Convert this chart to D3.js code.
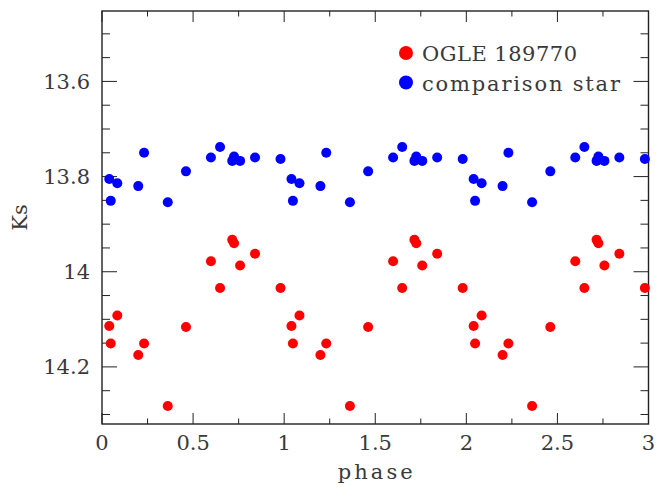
<!DOCTYPE html>
<html>
<head>
<meta charset="utf-8">
<script src="https://cdn.jsdelivr.net/npm/d3@7"></script>
<style>
  body { margin: 0; background: #fff; }
  svg { display: block; }
  text { font-family: "DejaVu Serif", serif; fill: #3a3a3a; }
</style>
</head>
<body>
<div id="chart"></div>
<script>
// Data: phase-folded light curve, one cycle (plotted repeated over 3 cycles)
const phases = [0.040, 0.048, 0.084, 0.199, 0.231, 0.361, 0.461, 0.598, 0.648, 0.715, 0.725, 0.758, 0.840, 0.980];
const ogleKs = [14.114, 14.151, 14.092, 14.175, 14.151, 14.282, 14.116, 13.978, 14.034, 13.933, 13.940, 13.987, 13.962, 14.034];
const compKs = [13.805, 13.851, 13.814, 13.820, 13.750, 13.854, 13.789, 13.760, 13.738, 13.767, 13.758, 13.767, 13.760, 13.763];
const cycles = [0, 1, 2];
const seriesNames = ["OGLE 189770", "comparison star"];
const seriesColors = ["#ff0000", "#0000ff"];
const xTicks = [0, 0.5, 1, 1.5, 2, 2.5, 3];
const yTicks = [13.6, 13.8, 14, 14.2];

const width = 656, height = 487;
const plot = { left: 102, right: 648.5, top: 11, bottom: 424 };

const svg = d3.select("#chart").append("svg")
    .attr("width", width)
    .attr("height", height);

const x = d3.scaleLinear().domain([0, 3]).range([plot.left, plot.right]);
const y = d3.scaleLinear().domain([13.452, 14.32]).range([plot.top, plot.bottom]);

// build folded points
function folded(values) {
    const pts = [];
    cycles.forEach(c => {
        phases.forEach((p, i) => {
            const ph = p + c;
            if (ph <= 3) pts.push({ phase: ph, ks: values[i] });
        });
    });
    return pts;
}

// ticks (inward, on all four sides)
const xMinor = d3.range(0, 3.001, 0.25);
const yMinor = d3.range(13.45, 14.321, 0.05).filter(v => v >= 13.452);
const tickG = svg.append("g").attr("stroke", "#222").attr("stroke-width", 1);

xMinor.forEach(v => {
    const major = Math.abs(v * 2 - Math.round(v * 2)) < 1e-6;
    const len = major ? 11 : 5.5;
    tickG.append("line").attr("x1", x(v)).attr("x2", x(v)).attr("y1", plot.bottom).attr("y2", plot.bottom - len);
    tickG.append("line").attr("x1", x(v)).attr("x2", x(v)).attr("y1", plot.top).attr("y2", plot.top + len);
});
yMinor.forEach(v => {
    const major = yTicks.some(t => Math.abs(t - v) < 1e-6);
    const len = major ? 15 : 8;
    tickG.append("line").attr("x1", plot.left).attr("x2", plot.left + len).attr("y1", y(v)).attr("y2", y(v));
    tickG.append("line").attr("x1", plot.right).attr("x2", plot.right - len).attr("y1", y(v)).attr("y2", y(v));
});

// frame
svg.append("rect")
    .attr("x", plot.left).attr("y", plot.top)
    .attr("width", plot.right - plot.left).attr("height", plot.bottom - plot.top)
    .attr("fill", "none").attr("stroke", "#222").attr("stroke-width", 1.4);

// tick labels
svg.append("g").selectAll("text").data(xTicks).enter().append("text")
    .attr("x", d => x(d))
    .attr("y", 450)
    .attr("text-anchor", "middle")
    .style("font-size", "21px")
    .text(d => d);

svg.append("g").selectAll("text").data(yTicks).enter().append("text")
    .attr("x", 90)
    .attr("y", d => y(d) + 7.5)
    .attr("text-anchor", "end")
    .style("font-size", "21px")
    .text(d => d);

// axis labels
svg.append("text")
    .attr("x", x(1.5))
    .attr("y", 479)
    .attr("text-anchor", "middle")
    .attr("textLength", 75)
    .attr("lengthAdjust", "spacing")
    .style("font-size", "21px")
    .text("phase");

svg.append("text")
    .attr("transform", `translate(27, ${(plot.top + plot.bottom) / 2}) rotate(-90)`)
    .attr("text-anchor", "middle")
    .style("font-size", "21px")
    .text("Ks");

// points
[ogleKs, compKs].forEach((vals, s) => {
    svg.append("g").selectAll("circle").data(folded(vals)).enter().append("circle")
        .attr("cx", d => x(d.phase))
        .attr("cy", d => y(d.ks))
        .attr("r", 5)
        .attr("fill", seriesColors[s]);
});

// legend
const legend = svg.append("g");
const legendLen = [155, 198];
seriesNames.forEach((name, i) => {
    const cy = 53 + i * 29.5;
    legend.append("circle").attr("cx", 406).attr("cy", cy).attr("r", 7).attr("fill", seriesColors[i]);
    legend.append("text")
        .attr("x", 422)
        .attr("y", cy + 8)
        .attr("textLength", legendLen[i])
        .attr("lengthAdjust", "spacing")
        .style("font-size", "21px")
        .text(name);
});
</script>
</body>
</html>
